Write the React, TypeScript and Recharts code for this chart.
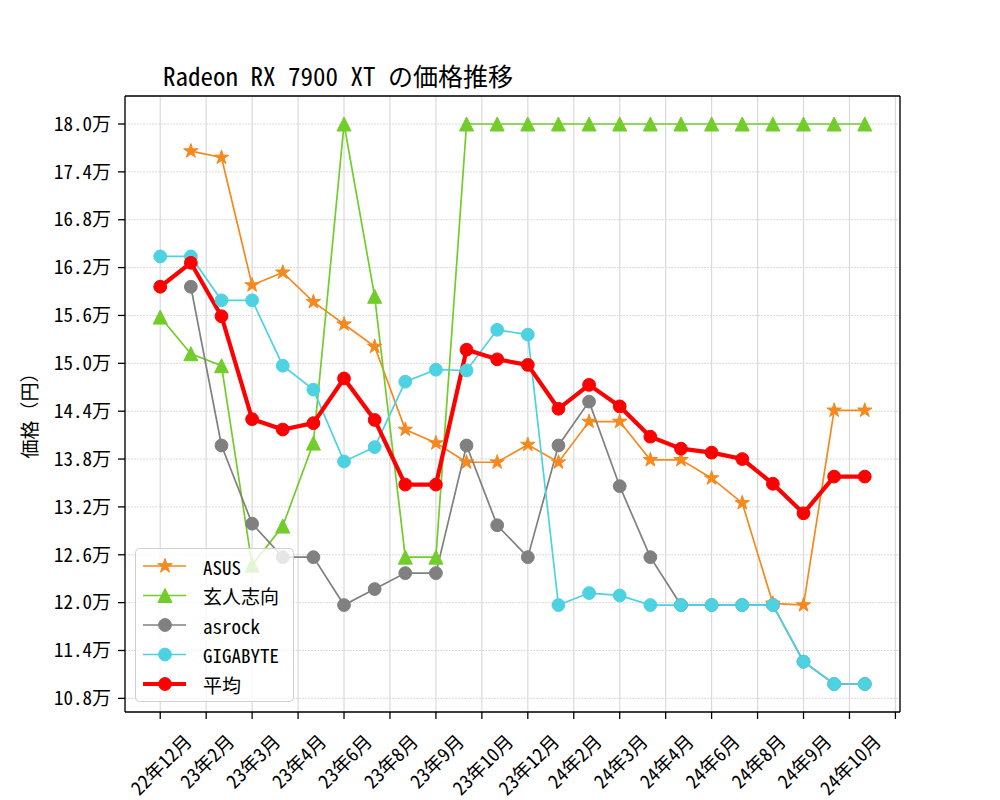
import { LineChart, Line, XAxis, YAxis, CartesianGrid, Legend, ReferenceLine } from 'recharts'

const FONT = "'Noto Sans Mono CJK JP', 'Noto Sans CJK JP', sans-serif"

// one point per month, 22/12 .. 24/11
const months = [
  '22/12', '23/01', '23/02', '23/03', '23/04', '23/05', '23/06', '23/07', '23/08', '23/09', '23/10', '23/11',
  '23/12', '24/01', '24/02', '24/03', '24/04', '24/05', '24/06', '24/07', '24/08', '24/09', '24/10', '24/11',
]

// prices in 万円
const asus = [null, 17.66, 17.58, 15.98, 16.14, 15.77, 15.49, 15.21, 14.17, 14.0, 13.76, 13.76, 13.98, 13.76, 14.27, 14.27, 13.79, 13.79, 13.56, 13.25, 11.99, 11.97, 14.41, 14.41]
const kuroto = [15.58, 15.12, 14.97, 12.47, 12.96, 14.0, 18.0, 15.84, 12.57, 12.57, 18.0, 18.0, 18.0, 18.0, 18.0, 18.0, 18.0, 18.0, 18.0, 18.0, 18.0, 18.0, 18.0, 18.0]
const asrock = [null, 15.96, 13.97, 12.99, 12.57, 12.57, 11.97, 12.17, 12.37, 12.37, 13.97, 12.97, 12.57, 13.97, 14.52, 13.46, 12.57, 11.97, 11.97, 11.97, 11.97, 11.26, 10.98, 10.98]
const gigabyte = [16.34, 16.34, 15.79, 15.79, 14.97, 14.67, 13.77, 13.95, 14.77, 14.92, 14.91, 15.42, 15.36, 11.97, 12.12, 12.09, 11.97, 11.97, 11.97, 11.97, 11.97, 11.26, 10.98, 10.98]
const average = [15.96, 16.26, 15.59, 14.3, 14.17, 14.25, 14.81, 14.29, 13.48, 13.48, 15.17, 15.05, 14.98, 14.43, 14.73, 14.46, 14.08, 13.93, 13.88, 13.8, 13.49, 13.12, 13.58, 13.58]

const xTickPos = [0, 1.5, 3, 4.5, 6, 7.5, 9, 10.5, 12, 13.5, 15, 16.5, 18, 19.5, 21, 22.5, 24]
const xTickLabels = ['22年12月', '23年2月', '23年3月', '23年4月', '23年6月', '23年8月', '23年9月', '23年10月', '23年12月', '24年2月', '24年3月', '24年4月', '24年6月', '24年8月', '24年9月', '24年10月', '']
const yTicks = [10.8, 11.4, 12.0, 12.6, 13.2, 13.8, 14.4, 15.0, 15.6, 16.2, 16.8, 17.4, 18.0]

const data = months.map((m, i) => ({
  i, m,
  asus: asus[i], kuroto: kuroto[i], asrock: asrock[i], gigabyte: gigabyte[i], average: average[i],
}))

const series = [
  { key: 'asus', name: 'ASUS', color: '#f5891e', shape: 'star', width: 1.7 },
  { key: 'kuroto', name: '玄人志向', color: '#72cd2b', shape: 'tri', width: 1.7 },
  { key: 'asrock', name: 'asrock', color: '#808080', shape: 'circle', width: 1.7 },
  { key: 'gigabyte', name: 'GIGABYTE', color: '#4dd2e2', shape: 'circle', width: 1.7 },
  { key: 'average', name: '平均', color: '#ff0000', shape: 'circle', width: 4.2 },
]

const X_DOMAIN = [-1.15, 24.15]
const Y_DOMAIN = [10.629, 18.351]
const FS = 19
const SPINE = { stroke: '#000', strokeWidth: 1.3 }

function marker(shape: string, cx: number, cy: number, color: string, k?: any) {
  if (shape === 'star') {
    const R = 7.6, r = R * 0.382
    const pts = []
    for (let j = 0; j < 10; j++) {
      const a = -Math.PI / 2 + (j * Math.PI) / 5
      const rr = j % 2 === 0 ? R : r
      pts.push(`${cx + rr * Math.cos(a)},${cy + rr * Math.sin(a)}`)
    }
    return <polygon key={k} points={pts.join(' ')} fill={color} stroke={color} strokeWidth={1} strokeLinejoin="miter" />
  }
  if (shape === 'tri') {
    const s = 7
    return <polygon key={k} points={`${cx},${cy - s} ${cx - s},${cy + s} ${cx + s},${cy + s}`} fill={color} stroke={color} strokeWidth={1} />
  }
  return <circle key={k} cx={cx} cy={cy} r={6.4} fill={color} stroke={color} strokeWidth={1} />
}

const makeDot = (shape: string, color: string) => (p: any) => {
  const k = `${shape}-${p.index}`
  if (p.value == null || p.cx == null || p.cy == null) return <g key={k} />
  return marker(shape, p.cx, p.cy, color, k)
}

const emWidth = (s: string) => Array.from(s).reduce((w, ch) => w + (ch.charCodeAt(0) > 255 ? 1 : 0.5), 0)

const XTick = (props: any) => {
  const { x, payload } = props
  const idx = xTickPos.indexOf(payload.value)
  const label = idx >= 0 ? xTickLabels[idx] : ''
  if (!label) return <g />
  const w = emWidth(label) * FS
  const side = (w + FS) / Math.SQRT2
  const cy = 730 + side / 2
  return (
    <text x={x} y={cy} textAnchor="middle" dominantBaseline="central" fontSize={FS} fill="#000"
      transform={`rotate(-45, ${x}, ${cy})`}>
      {label}
    </text>
  )
}

const LegendBox = () => (
  <svg width={160} height={156} style={{ display: 'block' }}>
    <rect x={0.5} y={0.5} width={158} height={153} rx={4} fill="#fff" fillOpacity={0.8} stroke="#d0d0d0" />
    {series.map((s, k) => {
      const cy = 18 + k * 29.5
      return (
        <g key={s.key}>
          <line x1={8} x2={51} y1={cy} y2={cy} stroke={s.color} strokeWidth={s.width} />
          {marker(s.shape, 30, cy, s.color)}
          <text x={68} y={cy} dominantBaseline="central" fontSize={FS} fill="#000" fontFamily={FONT}>{s.name}</text>
        </g>
      )
    })}
  </svg>
)

export default function App() {
  return (
    <div style={{ position: 'relative', width: 1000, height: 800, fontFamily: FONT, background: '#fff' }}>
      <style>{'body{margin:0}'}</style>
      <LineChart width={1000} height={800} data={data} margin={{ top: 96, right: 100, bottom: 8, left: 65 }}>
        <CartesianGrid horizontal={false} stroke="#dadada" strokeWidth={1.2} />
        <CartesianGrid vertical={false} stroke="#dadada" strokeWidth={1} strokeDasharray="2 1" />
        <XAxis dataKey="i" type="number" domain={X_DOMAIN} allowDataOverflow ticks={xTickPos} interval={0}
          height={80} tickSize={7} tick={<XTick />} tickLine={SPINE} axisLine={SPINE} />
        <YAxis type="number" domain={Y_DOMAIN} allowDataOverflow ticks={yTicks} interval={0} width={60}
          tickSize={7} tickMargin={7} tickFormatter={(v: number) => `${v.toFixed(1)}万`}
          tick={{ fill: '#000', fontSize: FS }} tickLine={SPINE} axisLine={SPINE} />
        {/* top and right spines */}
        <ReferenceLine y={Y_DOMAIN[1]} ifOverflow="visible" {...SPINE} />
        <ReferenceLine x={X_DOMAIN[1]} ifOverflow="visible" {...SPINE} />
        {series.map(s => (
          <Line key={s.key} dataKey={s.key} name={s.name} type="linear" stroke={s.color} strokeWidth={s.width}
            dot={makeDot(s.shape, s.color)} activeDot={false} isAnimationActive={false} connectNulls={false} />
        ))}
        <Legend layout="horizontal" verticalAlign="middle" align="center" content={<LegendBox />}
          wrapperStyle={{ position: 'absolute', left: 135, top: 548, width: 160, height: 156 }} />
      </LineChart>
      <svg width={1000} height={800} style={{ position: 'absolute', left: 0, top: 0, pointerEvents: 'none' }}>
        <text x={163} y={75} dominantBaseline="central" fontSize={25} fill="#000">Radeon RX 7900 XT の価格推移</text>
        <text x={28} y={411} textAnchor="middle" dominantBaseline="central" fontSize={FS} fill="#000"
          transform="rotate(-90, 28, 411)">価格（円）</text>
      </svg>
    </div>
  )
}
